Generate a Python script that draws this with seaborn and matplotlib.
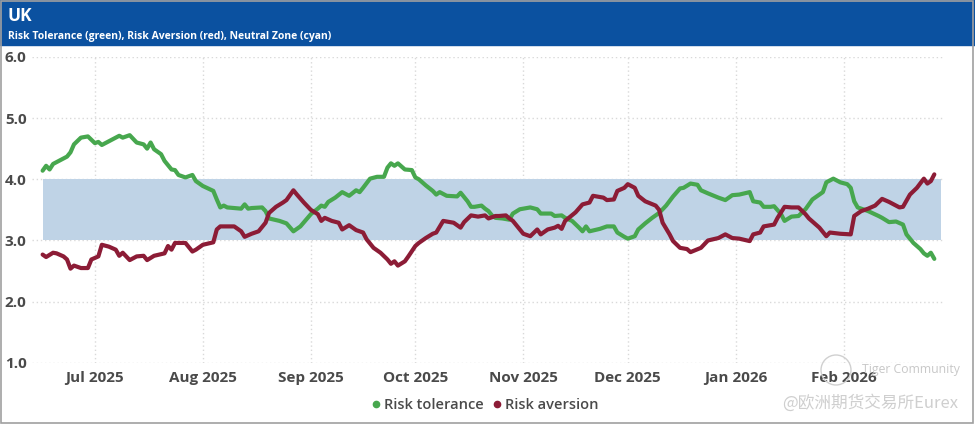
import matplotlib
matplotlib.use("Agg")
import matplotlib.pyplot as plt
import matplotlib.dates as mdates
from matplotlib.lines import Line2D
from matplotlib.patches import Rectangle, Ellipse
import seaborn as sns
import pandas as pd

# risk tolerance (green)
tol_dates = [
    "2025-06-16", "2025-06-17", "2025-06-18", "2025-06-19", "2025-06-23", "2025-06-24", "2025-06-25",
    "2025-06-27", "2025-06-29", "2025-07-01", "2025-07-02", "2025-07-03", "2025-07-08", "2025-07-09",
    "2025-07-11", "2025-07-13", "2025-07-15", "2025-07-16", "2025-07-17", "2025-07-18", "2025-07-20",
    "2025-07-21", "2025-07-23", "2025-07-24", "2025-07-25", "2025-07-27", "2025-07-29", "2025-07-30",
    "2025-08-01", "2025-08-04", "2025-08-05", "2025-08-06", "2025-08-07", "2025-08-08", "2025-08-12",
    "2025-08-13", "2025-08-14", "2025-08-15", "2025-08-18", "2025-08-19", "2025-08-20", "2025-08-23",
    "2025-08-25", "2025-08-27", "2025-08-29", "2025-09-01", "2025-09-03", "2025-09-04", "2025-09-05",
    "2025-09-06", "2025-09-08", "2025-09-10", "2025-09-12", "2025-09-14", "2025-09-15", "2025-09-16",
    "2025-09-18", "2025-09-20", "2025-09-22", "2025-09-23", "2025-09-24", "2025-09-25", "2025-09-26",
    "2025-09-27", "2025-09-28", "2025-09-30", "2025-10-01", "2025-10-02", "2025-10-04", "2025-10-06",
    "2025-10-07", "2025-10-08", "2025-10-10", "2025-10-13", "2025-10-14", "2025-10-16", "2025-10-17",
    "2025-10-18", "2025-10-20", "2025-10-21", "2025-10-22", "2025-10-23", "2025-10-24", "2025-10-26",
    "2025-10-28", "2025-10-29", "2025-10-31", "2025-11-03", "2025-11-05", "2025-11-06", "2025-11-09",
    "2025-11-10", "2025-11-12", "2025-11-13", "2025-11-15", "2025-11-17", "2025-11-18", "2025-11-19",
    "2025-11-20", "2025-11-23", "2025-11-25", "2025-11-27", "2025-11-28", "2025-11-30", "2025-12-01",
    "2025-12-03", "2025-12-04", "2025-12-06", "2025-12-08", "2025-12-10", "2025-12-12", "2025-12-14",
    "2025-12-16", "2025-12-17", "2025-12-19", "2025-12-21", "2025-12-22", "2025-12-24", "2025-12-27",
    "2025-12-29", "2025-12-31", "2026-01-02", "2026-01-05", "2026-01-06", "2026-01-08", "2026-01-09",
    "2026-01-11", "2026-01-12", "2026-01-14", "2026-01-15", "2026-01-17", "2026-01-19", "2026-01-21",
    "2026-01-23", "2026-01-26", "2026-01-27", "2026-01-29", "2026-01-31", "2026-02-02", "2026-02-03",
    "2026-02-04", "2026-02-05", "2026-02-08", "2026-02-11", "2026-02-12", "2026-02-14", "2026-02-16",
    "2026-02-18", "2026-02-19", "2026-02-21", "2026-02-23", "2026-02-24", "2026-02-25", "2026-02-26",
    "2026-02-27",
]
tol_vals = [
    4.14, 4.22, 4.16, 4.25, 4.37, 4.44, 4.57,
    4.68, 4.70, 4.59, 4.61, 4.56, 4.71, 4.68,
    4.72, 4.60, 4.57, 4.50, 4.60, 4.49, 4.41,
    4.30, 4.16, 4.15, 4.07, 4.03, 4.07, 3.97,
    3.89, 3.81, 3.67, 3.54, 3.57, 3.54, 3.52,
    3.59, 3.52, 3.53, 3.54, 3.48, 3.36, 3.32,
    3.28, 3.15, 3.23, 3.43, 3.52, 3.57, 3.55,
    3.63, 3.70, 3.79, 3.73, 3.82, 3.79, 3.86,
    4.01, 4.04, 4.04, 4.19, 4.26, 4.22, 4.26,
    4.21, 4.16, 4.15, 4.03, 4.00, 3.90, 3.81,
    3.75, 3.79, 3.73, 3.72, 3.78, 3.64, 3.55,
    3.55, 3.57, 3.52, 3.48, 3.41, 3.37, 3.36,
    3.34, 3.44, 3.51, 3.54, 3.51, 3.44, 3.44,
    3.40, 3.41, 3.37, 3.32, 3.21, 3.15, 3.23,
    3.15, 3.19, 3.23, 3.23, 3.13, 3.06, 3.03,
    3.07, 3.18, 3.28, 3.37, 3.45, 3.57, 3.72,
    3.85, 3.86, 3.93, 3.91, 3.82, 3.77, 3.70,
    3.66, 3.74, 3.75, 3.79, 3.64, 3.62, 3.55,
    3.55, 3.56, 3.43, 3.32, 3.39, 3.40, 3.51,
    3.67, 3.79, 3.95, 4.01, 3.95, 3.92, 3.86,
    3.64, 3.54, 3.48, 3.40, 3.37, 3.30, 3.31,
    3.26, 3.10, 2.96, 2.86, 2.79, 2.75, 2.80,
    2.70,
]

# risk aversion (red)
avr_dates = [
    "2025-06-16", "2025-06-17", "2025-06-19", "2025-06-20", "2025-06-22", "2025-06-23", "2025-06-24",
    "2025-06-25", "2025-06-27", "2025-06-29", "2025-06-30", "2025-07-02", "2025-07-03", "2025-07-05",
    "2025-07-07", "2025-07-08", "2025-07-09", "2025-07-11", "2025-07-13", "2025-07-15", "2025-07-16",
    "2025-07-18", "2025-07-21", "2025-07-22", "2025-07-23", "2025-07-24", "2025-07-27", "2025-07-29",
    "2025-07-30", "2025-08-01", "2025-08-04", "2025-08-05", "2025-08-06", "2025-08-10", "2025-08-12",
    "2025-08-13", "2025-08-15", "2025-08-17", "2025-08-19", "2025-08-20", "2025-08-22", "2025-08-24",
    "2025-08-25", "2025-08-27", "2025-08-28", "2025-08-30", "2025-09-01", "2025-09-03", "2025-09-04",
    "2025-09-05", "2025-09-07", "2025-09-09", "2025-09-10", "2025-09-12", "2025-09-14", "2025-09-16",
    "2025-09-17", "2025-09-19", "2025-09-21", "2025-09-23", "2025-09-24", "2025-09-25", "2025-09-26",
    "2025-09-28", "2025-09-29", "2025-10-01", "2025-10-02", "2025-10-04", "2025-10-06", "2025-10-07",
    "2025-10-09", "2025-10-12", "2025-10-14", "2025-10-15", "2025-10-17", "2025-10-19", "2025-10-21",
    "2025-10-22", "2025-10-24", "2025-10-25", "2025-10-27", "2025-10-28", "2025-10-29", "2025-10-31",
    "2025-11-01", "2025-11-03", "2025-11-05", "2025-11-06", "2025-11-08", "2025-11-10", "2025-11-11",
    "2025-11-12", "2025-11-13", "2025-11-16", "2025-11-18", "2025-11-20", "2025-11-21", "2025-11-24",
    "2025-11-25", "2025-11-27", "2025-11-28", "2025-11-30", "2025-12-01", "2025-12-03", "2025-12-04",
    "2025-12-06", "2025-12-09", "2025-12-10", "2025-12-11", "2025-12-13", "2025-12-14", "2025-12-16",
    "2025-12-18", "2025-12-19", "2025-12-22", "2025-12-24", "2025-12-27", "2025-12-29", "2025-12-31",
    "2026-01-02", "2026-01-05", "2026-01-06", "2026-01-08", "2026-01-09", "2026-01-11", "2026-01-12",
    "2026-01-13", "2026-01-15", "2026-01-17", "2026-01-19", "2026-01-21", "2026-01-22", "2026-01-25",
    "2026-01-27", "2026-01-28", "2026-01-31", "2026-02-03", "2026-02-04", "2026-02-06", "2026-02-08",
    "2026-02-10", "2026-02-12", "2026-02-14", "2026-02-17", "2026-02-18", "2026-02-20", "2026-02-22",
    "2026-02-24", "2026-02-25", "2026-02-26", "2026-02-27",
]
avr_vals = [
    2.77, 2.73, 2.80, 2.79, 2.74, 2.69, 2.54,
    2.59, 2.55, 2.55, 2.69, 2.74, 2.93, 2.90,
    2.85, 2.75, 2.80, 2.68, 2.74, 2.75, 2.68,
    2.75, 2.79, 2.91, 2.85, 2.96, 2.96, 2.82,
    2.85, 2.93, 2.97, 3.18, 3.23, 3.23, 3.15,
    3.06, 3.11, 3.15, 3.29, 3.45, 3.55, 3.62,
    3.66, 3.82, 3.75, 3.62, 3.50, 3.43, 3.32,
    3.37, 3.32, 3.29, 3.18, 3.25, 3.17, 3.13,
    3.02, 2.88, 2.80, 2.69, 2.62, 2.66, 2.59,
    2.66, 2.74, 2.91, 2.96, 3.04, 3.11, 3.13,
    3.32, 3.29, 3.21, 3.30, 3.41, 3.39, 3.41,
    3.36, 3.40, 3.40, 3.41, 3.36, 3.32, 3.18,
    3.11, 3.07, 3.18, 3.10, 3.18, 3.21, 3.24,
    3.19, 3.32, 3.46, 3.59, 3.62, 3.73, 3.70,
    3.66, 3.67, 3.81, 3.86, 3.92, 3.86, 3.73,
    3.64, 3.57, 3.50, 3.29, 3.10, 2.99, 2.88,
    2.86, 2.81, 2.88, 3.00, 3.04, 3.10, 3.04,
    3.03, 2.99, 3.10, 3.13, 3.23, 3.25, 3.26,
    3.37, 3.55, 3.54, 3.54, 3.43, 3.36, 3.21,
    3.07, 3.13, 3.11, 3.10, 3.40, 3.48, 3.52,
    3.57, 3.68, 3.63, 3.54, 3.55, 3.75, 3.86,
    4.01, 3.93, 3.97, 4.08,
]

zone_low, zone_high = 3.0, 4.0
yticks = [1.0, 2.0, 3.0, 4.0, 5.0, 6.0]
month_ticks = ["2025-07-01", "2025-08-01", "2025-09-01", "2025-10-01",
               "2025-11-01", "2025-12-01", "2026-01-01", "2026-02-01"]
title = "UK"
subtitle = "Risk Tolerance (green), Risk Aversion (red), Neutral Zone (cyan)"
legend_labels = ["Risk tolerance", "Risk aversion"]

green = "#47A74E"
red = "#8C1C36"
band = "#BFD3E6"
header_blue = "#0B51A0"
txt = "#4A4A4A"

tol = pd.DataFrame({"date": pd.to_datetime(tol_dates), "value": tol_vals})
avr = pd.DataFrame({"date": pd.to_datetime(avr_dates), "value": avr_vals})

sns.set_style("white")
plt.rcParams["font.family"] = ["Open Sans", "Noto Sans CJK SC", "DejaVu Sans"]

fig = plt.figure(figsize=(9.75, 4.24), dpi=100)
ax = fig.add_axes([0.033, 0.144, 0.936, 0.722])

# neutral zone band
band_x = pd.to_datetime([tol_dates[0], "2026-03-01"])
ax.fill_between(band_x, zone_low, zone_high, color=band, linewidth=0, zorder=1)

sns.lineplot(data=tol, x="date", y="value", ax=ax, color=green, linewidth=3.0, zorder=3)
sns.lineplot(data=avr, x="date", y="value", ax=ax, color=red, linewidth=3.0, zorder=3)

ax.set_xlim(pd.Timestamp("2025-06-13"), pd.Timestamp("2026-03-02"))
ax.set_ylim(1.0, 6.0)
ax.set_yticks(yticks)
ax.yaxis.set_major_formatter(matplotlib.ticker.FormatStrFormatter("%.1f"))
ax.set_xticks(pd.to_datetime(month_ticks))
ax.xaxis.set_major_formatter(mdates.DateFormatter("%b %Y"))
ax.set_xlabel("")
ax.set_ylabel("")
ax.grid(True, color="#D9D9D9", linestyle=(0, (1, 2)), linewidth=1.0, zorder=0)
ax.set_axisbelow(True)
for s in ax.spines.values():
    s.set_visible(False)
ax.tick_params(axis="both", length=0, labelsize=11, labelcolor=txt)
ax.tick_params(axis="y", pad=4)
ax.tick_params(axis="x", pad=6)
for lab in ax.get_xticklabels() + ax.get_yticklabels():
    lab.set_fontweight("bold")

# header bar
fig.patches.append(Rectangle((0, 1 - 45 / 424), 1, 45 / 424, transform=fig.transFigure,
                             color=header_blue, zorder=0))
fig.text(0.008, 0.962, title, color="white", fontsize=12.5, fontweight="bold", va="center")
fig.text(0.008, 0.915, subtitle, color="white", fontsize=7.5, fontweight="bold", va="center")

# legend
handles = [Line2D([], [], marker="o", linestyle="", color=green, markersize=4.5),
           Line2D([], [], marker="o", linestyle="", color=red, markersize=4.5)]
fig.legend(handles, legend_labels, loc="center", bbox_to_anchor=(0.497, 0.045), ncol=2, frameon=False,
           handlelength=0.8, handletextpad=0.15, columnspacing=0.5, labelcolor=txt,
           prop={"weight": "semibold", "size": 10.5})

# watermark
fig.patches.append(Ellipse((836 / 975, 1 - 370 / 424), 30 / 975, 30 / 424, transform=fig.transFigure,
                           fill=False, edgecolor="#D0D0D0", linewidth=1.0, zorder=4))
fig.text(0.884, 0.128, "Tiger Community", color="#C8C8C8", fontsize=8.8, va="center")
fig.text(0.892, 0.05, "@欧洲期货交易所Eurex", color="#CFCFCF", fontsize=12, va="center", ha="center",
         family=["Noto Sans CJK SC", "DejaVu Sans"])

# outer border
fig.patches.append(Rectangle((0.001, 0.002), 0.997, 0.996, transform=fig.transFigure, fill=False,
                             edgecolor="#A0A0A0", linewidth=1.2, zorder=5))

fig.savefig("out.png", dpi=100)
